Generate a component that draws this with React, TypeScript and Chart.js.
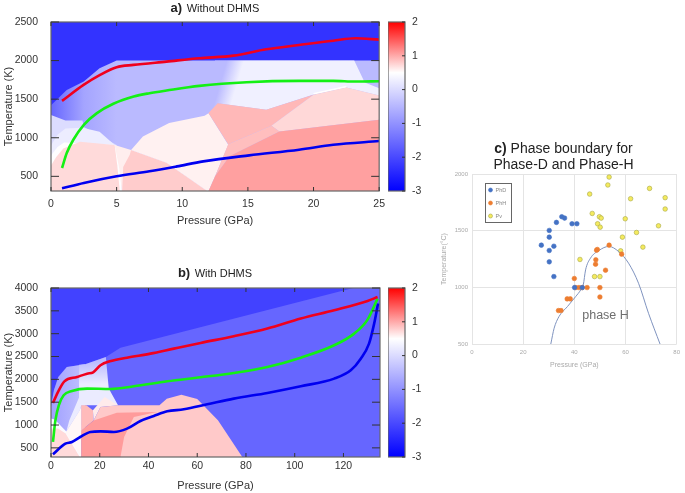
import React, { useEffect, useRef } from "react";
import { Chart, registerables } from "chart.js";

Chart.register(...registerables);

const FONT = '"Liberation Sans", Arial, sans-serif';

// ---- Tick labels
const aPressureTicks = [0, 5, 10, 15, 20, 25];
const aTempTicks = [500, 1000, 1500, 2000, 2500];
const bPressureTicks = [0, 20, 40, 60, 80, 100, 120];
const bTempTicks = [500, 1000, 1500, 2000, 2500, 3000, 3500, 4000];
const cPressureTicks = [0, 20, 40, 60, 80];
const cTempTicks = [500, 1000, 1500, 2000];

// ---- Panel a curves: [pressure GPa, temperature K]
const aRed = [[0.84,1478],[2.48,1685],[3.74,1815],[5,1914],[6.27,1944],[8.8,1987],[11.3,2030],[13.9,2064],[16.4,2146],[18.9,2202],[21.5,2258],[23.2,2289],[25,2271]];
const aGreen = [[0.84,608],[1.2,802],[1.7,974],[2.5,1168],[3.5,1319],[4.75,1440],[6.3,1534],[7.5,1577],[8.8,1612],[11.3,1672],[14.9,1720],[18.9,1737],[21.5,1737],[23.2,1728],[25,1733]];
const aBlue = [[0.84,345],[2.5,414],[5,500],[7.5,565],[9.6,629],[11.6,694],[15.1,772],[18.9,845],[21.5,909],[25,957]];

// ---- Panel b curves
const bRed = [[0.8,1483],[3.2,1760],[5.5,1957],[10.7,2052],[14.8,2125],[17.3,2154],[20.3,2308],[24.1,2395],[31.2,2475],[40.8,2563],[50.4,2673],[61.4,2797],[75,2943],[88.8,3111],[102.5,3330],[116.2,3512],[129.9,3716],[134,3804]];
const bGreen = [[0.8,629],[1.8,1103],[3.2,1432],[5.2,1651],[8.6,1745],[14.8,1797],[24.4,1789],[34,1848],[47.7,1957],[61.4,2045],[75,2140],[88.8,2271],[102.5,2475],[116.2,2746],[124.4,3001],[129.9,3308],[134,3768]];
const bBlue = [[0.8,358],[5.9,592],[8.6,629],[12,738],[16.2,848],[20.3,862],[25.8,848],[31.2,921],[36.7,1088],[42.2,1198],[47.7,1300],[54.5,1344],[64.1,1453],[75,1578],[88.8,1702],[102.5,1848],[116.2,2016],[123,2198],[127.1,2453],[130.5,2782],[132.6,3220],[134.2,3658]];

// ---- Panel a filled regions (painted back to front), v = log value on the colour bar,
// range = gradient from [P0,T0] to [P1,T1]
const aRegions = [
  { v: [-2.3], pts: [[0,310],[0,2500],[25,2500],[25,310]] },
  { v: [-1.6,-0.75,-0.45], range: [0,0,5,0], pts: [[0,1420],[1.2,1620],[2.5,1728],[3.7,1900],[5,2000],[25,2000],[25,310],[0,310]] },
  { v: [-0.45,0.3], range: [12.8,1650,14,1590], pts: [[12.5,2000],[23.1,2000],[23.9,1715],[25,1640],[25,1547],[22.5,1651],[20,1560],[16.4,1362],[12.7,1448],[12,1320],[10.5,1240],[10.5,1400]] },
  { v: [0.5], pts: [[20,1560],[22.5,1651],[22.5,1675],[20,1580]] },
  { v: [0.02], pts: [[0,1294],[1.1,1225],[2.4,1225],[2.5,1140],[5,905],[5.3,310],[0,310]] },
  { v: [0.25], pts: [[0,900],[0.5,1040],[1.1,1121],[2.4,1130],[3.7,1078],[4.85,905],[5.3,310],[0,310]] },
  { v: [0.48], pts: [[0,770],[0.5,880],[1,940],[4.85,905],[5.3,850],[5.4,310],[0,310]] },
  { v: [0.72], pts: [[0,640],[0.4,750],[0.94,862],[2.2,948],[4.85,905],[5.05,640],[5.24,310],[0,310]] },
  { v: [0.6], pts: [[4.85,905],[6.1,840],[8.8,675],[11.9,310],[5.4,310],[5.2,600]] },
  { v: [0.8], pts: [[5.42,310],[5.5,620],[6,780],[6.1,840],[8.8,675],[11.9,310]] },
  { v: [0.58], pts: [[6.1,840],[7,1017],[9,1190],[11.7,1284],[12,1319],[13.5,909],[12.5,500],[12,310],[11.9,310],[8.8,675]] },
  { v: [0.92], pts: [[12,1320],[12.7,1448],[16.4,1362],[20,1556],[16.8,1155],[13.5,915]] },
  { v: [0.73], pts: [[16.8,1155],[20,1556],[22.5,1651],[25,1547],[25,1233],[17.4,1082]] },
  { v: [0.88], pts: [[13.5,915],[16.8,1155],[17.4,1082],[13.6,759],[12.5,500]] },
  { v: [1.06], pts: [[12,310],[12.5,500],[13.6,759],[17.4,1082],[25,1233],[25,310]] },
];

// ---- Panel b filled regions
const bRegions = [
  { v: [-2.1], pts: [[0,300],[0,4000],[135,4000],[135,300]] },
  { v: [-1.6], pts: [[0,1400],[1.2,1760],[3,2052],[6.5,2270],[14,2330],[22.5,2490],[28.5,2694],[124,4000],[135,4220],[135,300],[0,300]] },
  { v: [-0.8,-0.4], range: [0,0,12,0], pts: [[0,1400],[1.2,1760],[3,2052],[6.5,2270],[14,2330],[14,700],[0,700]] },
  { v: [0.22,-0.45], range: [0,1900,0,2400], pts: [[11.5,2320],[14,2330],[22.5,2490],[23.7,1797],[27.5,1432],[12.4,1432],[11.8,1322],[6.3,860],[7.5,1100],[11.5,1600]] },
  { v: [0.45], pts: [[0,1141],[1.5,1120],[6.3,860],[12.4,1000],[12.4,300],[0,300]] },
  { v: [0.55], pts: [[6.3,860],[11.8,1322],[12.4,1400],[12.4,300],[11.8,337],[6.2,820]] },
  { v: [0.72], pts: [[0,922],[2.9,922],[6,815],[11.8,300],[0,300]] },
  { v: [0.9], pts: [[12.4,1432],[14.5,1432],[17.2,1322],[17.5,1100],[12.4,880]] },
  { v: [0.62], pts: [[17.2,1322],[22,1613],[27.5,1432],[20.3,1395],[17.5,1100]] },
  { v: [0.82], pts: [[17.5,1100],[20.3,1395],[27.5,1432],[44.5,1431],[47.5,1577],[53.5,1665],[60,1570],[68.5,1103],[78.5,300],[28.5,300]] },
  { v: [1.09], pts: [[28.5,300],[30,740],[34,1176],[43.5,1285],[27,1271],[17.5,1100],[12.4,880],[12.4,300]] },
];

// ---- Panel c
const phDPoints = [[27.1,1372],[30.2,1502],[30.2,1443],[30.2,1325],[30.2,1225],[32,1363],[32,1095],[33,1573],[35.1,1623],[36.2,1611],[39.1,1561],[41,1561],[40.1,998],[43.1,998]];
const phHPoints = [[33.8,795],[34.8,795],[37.2,898],[38.4,898],[40,1078],[40.5,998],[41.8,998],[43.1,998],[45,998],[50,998],[50,915],[48.3,1204],[48.4,1243],[48.7,1328],[49,1334],[52.2,1151],[53.6,1372],[58.5,1293]];
const pvPoints = [[53.6,1973],[53.1,1903],[46,1823],[69.4,1873],[62,1782],[75.5,1791],[75.5,1691],[47,1652],[49.8,1623],[50.5,1611],[59.9,1605],[49.1,1561],[50.1,1531],[72.9,1543],[64.3,1484],[58.8,1443],[66.8,1355],[58.1,1322],[42.2,1246],[47.9,1095],[50,1095]];
const phaseBoundary = [[30.8,500],[32.1,639],[34,742],[37.3,830],[40.5,918],[42.5,977],[43.5,1022],[44.4,1154],[46.3,1257],[49.6,1325],[53.5,1361],[57.3,1316],[61.2,1213],[65.1,1036],[69,771],[73.5,500]];
const colorBarRange = [-3, 2];

const xy = (a: number[][]) => a.map(([x, y]) => ({ x, y }));

function logColor(v: number) {
  if (v < 0.5) {
    const c = Math.round((255 * (v + 3)) / 3.5);
    return `rgb(${c},${c},255)`;
  }
  const c = Math.round(255 * (1 - (v - 0.5) / 1.5));
  return `rgb(255,${c},${c})`;
}

const regionPlugin = {
  id: "regions",
  beforeDatasetsDraw(chart: any) {
    const { ctx, chartArea: a, scales } = chart;
    const X = (v: number) => scales.x.getPixelForValue(v);
    const Y = (v: number) => scales.y.getPixelForValue(v);
    ctx.save();
    ctx.beginPath();
    ctx.rect(a.left, a.top, a.right - a.left, a.bottom - a.top);
    ctx.clip();
    chart.data.datasets.forEach((ds: any) => {
      if (!ds.region) return;
      ctx.beginPath();
      ds.data.forEach((p: any, i: number) => {
        if (i === 0) ctx.moveTo(X(p.x), Y(p.y));
        else ctx.lineTo(X(p.x), Y(p.y));
      });
      ctx.closePath();
      const { v, range } = ds.region;
      if (v.length > 1) {
        const g = ctx.createLinearGradient(X(range[0]), Y(range[1]), X(range[2]), Y(range[3]));
        v.forEach((c: number, i: number) => g.addColorStop(i / (v.length - 1), logColor(c)));
        ctx.fillStyle = g;
      } else {
        ctx.fillStyle = logColor(v[0]);
      }
      ctx.fill();
    });
    ctx.restore();
  },
};

const framePlugin = {
  id: "frame",
  afterDatasetsDraw(chart: any) {
    const o = chart.options.plugins.frame;
    if (!o || !o.on) return;
    const { ctx, chartArea: a, scales } = chart;
    ctx.save();
    ctx.strokeStyle = "#666";
    ctx.lineWidth = 1.2;
    ctx.strokeRect(a.left, a.top, a.right - a.left, a.bottom - a.top);
    ctx.strokeStyle = "#333";
    ctx.lineWidth = 1;
    ctx.beginPath();
    if (o.xTick) {
      scales.x.ticks.forEach((t: any) => {
        const X = scales.x.getPixelForValue(t.value);
        ctx.moveTo(X, a.bottom); ctx.lineTo(X, a.bottom - o.xTick);
        ctx.moveTo(X, a.top); ctx.lineTo(X, a.top + o.xTick);
      });
    }
    scales.y.ticks.forEach((t: any) => {
      const Y = scales.y.getPixelForValue(t.value);
      if (o.leftTicks) { ctx.moveTo(a.left, Y); ctx.lineTo(a.left + o.yTick, Y); }
      ctx.moveTo(a.right, Y); ctx.lineTo(a.right - o.yTick, Y);
    });
    ctx.stroke();
    ctx.restore();
  },
};

const annotatePlugin = {
  id: "annotate",
  afterDatasetsDraw(chart: any) {
    const o = chart.options.plugins.annotate;
    if (!o || !o.on) return;
    const { ctx, scales } = chart;
    ctx.save();
    ctx.fillStyle = "#6e6e6e";
    ctx.font = `12.5px ${FONT}`;
    ctx.textAlign = "center";
    ctx.textBaseline = "middle";
    ctx.fillText("phase H", scales.x.getPixelForValue(52.2), scales.y.getPixelForValue(747));
    // legend box
    const bx = scales.x.getPixelForValue(0) + 13.5;
    const by = scales.y.getPixelForValue(2000) + 9.5;
    ctx.strokeStyle = "#666";
    ctx.lineWidth = 1;
    ctx.fillStyle = "#fff";
    ctx.fillRect(bx, by, 26, 39);
    ctx.strokeRect(bx, by, 26, 39);
    const items = chart.data.datasets.filter((d: any) => d.legendEntry).sort((a: any, b: any) => a.legendEntry - b.legendEntry);
    items.forEach((d: any, i: number) => {
      const Y = by + 6.5 + i * 13;
      ctx.beginPath();
      ctx.arc(bx + 5, Y, 2, 0, Math.PI * 2);
      ctx.fillStyle = d.backgroundColor;
      ctx.fill();
      ctx.lineWidth = 0.6;
      ctx.strokeStyle = d.borderColor;
      ctx.stroke();
      ctx.fillStyle = "#888";
      ctx.font = `5.5px ${FONT}`;
      ctx.textAlign = "left";
      ctx.fillText(d.label, bx + 10, Y);
    });
    ctx.restore();
  },
};

const regionSets = (rs: any[]) =>
  rs.map((r, i) => ({ label: `region ${i}`, region: r, data: xy(r.pts), showLine: false, pointRadius: 0, pointHoverRadius: 0 }));

const curve = (label: string, pts: number[][], color: string) => ({
  label, data: xy(pts), showLine: true, borderColor: color, borderWidth: 2.6, pointRadius: 0, cubicInterpolationMode: "monotone", borderCapStyle: "butt", borderJoinStyle: "round",
});

function axis(o: any) {
  return {
    type: "linear",
    min: o.min,
    max: o.max,
    border: { display: false },
    grid: o.grid ? { color: "#e4e4e4", drawTicks: false, lineWidth: 1 } : { display: false, drawTicks: false },
    afterFit: o.afterFit,
    afterBuildTicks: (s: any) => {
      s.ticks = o.values.map((value: number) => ({ value }));
    },
    ticks: { autoSkip: false, maxRotation: 0, padding: o.pad, color: o.color, font: { family: FONT, size: o.size }, callback: (v: any) => String(v) },
    title: { display: true, text: o.title, color: o.color, padding: o.titlePad, font: { family: FONT, size: o.titleSize } },
  };
}

function panelConfig(regions: any[], curves: any[], xo: any, yo: any, pad: any, yWidth: number, xHeight: number) {
  return {
    type: "scatter",
    data: { datasets: [...curves, ...regionSets(regions)] },
    options: {
      animation: false,
      responsive: false,
      layout: { padding: pad },
      plugins: { legend: { display: false }, tooltip: { enabled: false }, frame: { on: true, xTick: 4, yTick: 8, leftTicks: true } },
      scales: {
        x: axis({ ...xo, afterFit: (s: any) => { s.height = xHeight; } }),
        y: axis({ ...yo, afterFit: (s: any) => { s.width = yWidth; } }),
      },
    },
    plugins: [regionPlugin, framePlugin],
  };
}

function barConfig(pad: any) {
  return {
    type: "bar",
    data: {
      labels: ["log"],
      datasets: [{
        label: "colour scale",
        data: [colorBarRange],
        barPercentage: 1,
        categoryPercentage: 1,
        backgroundColor: (c: any) => {
          const { chart } = c;
          if (!chart.chartArea) return "#fff";
          const y = chart.scales.y;
          const g = chart.ctx.createLinearGradient(0, y.getPixelForValue(-3), 0, y.getPixelForValue(2));
          g.addColorStop(0, logColor(-3));
          g.addColorStop(3.5 / 5, logColor(0.5));
          g.addColorStop(1, logColor(2));
          return g;
        },
      }],
    },
    options: {
      animation: false,
      responsive: false,
      layout: { padding: pad },
      plugins: { legend: { display: false }, tooltip: { enabled: false }, frame: { on: true, xTick: 0, yTick: 3, leftTicks: false } },
      scales: {
        x: { display: false },
        y: {
          position: "right",
          min: -3,
          max: 2,
          border: { display: false },
          grid: { display: false, drawTicks: false },
          afterFit: (s: any) => { s.width = 25; },
          ticks: { stepSize: 1, padding: 7, color: "#333", font: { family: FONT, size: 10.5 } },
        },
      },
    },
    plugins: [framePlugin],
  };
}

function phaseConfig() {
  const pt = (label: string, pts: number[][], fill: string, stroke: string, legendEntry: number) => ({
    label, legendEntry, data: xy(pts), backgroundColor: fill, borderColor: stroke, borderWidth: 0.6, pointRadius: 2.3, showLine: false,
  });
  return {
    type: "scatter",
    data: {
      datasets: [
        pt("PhD", phDPoints, "#4472c4", "#4472c4", 1),
        pt("PhH", phHPoints, "#ed7d31", "#ed7d31", 2),
        { label: "boundary", data: xy(phaseBoundary), showLine: true, borderColor: "#7f93bf", borderWidth: 1, pointRadius: 0, cubicInterpolationMode: "monotone" },
        pt("Pv", pvPoints, "#f4ea5e", "#a8a848", 3),
      ],
    },
    options: {
      animation: false,
      responsive: false,
      layout: { padding: { top: 9, right: 7, left: 0, bottom: 0 } },
      plugins: { legend: { display: false }, tooltip: { enabled: false }, annotate: { on: true } },
      scales: {
        x: axis({ min: 0, max: 80, values: cPressureTicks, pad: 5, color: "#aaa", size: 6, title: "Pressure (GPa)", titleSize: 7, titlePad: { top: 3, bottom: 1 }, grid: true, afterFit: (s: any) => { s.height = 26; } }),
        y: axis({ min: 500, max: 2000, values: cTempTicks, pad: 4, color: "#aaa", size: 6, title: "Temperature(°C)", titleSize: 7, titlePad: { top: 0, bottom: 2 }, grid: true, afterFit: (s: any) => { s.width = 32; } }),
      },
    },
    plugins: [annotatePlugin],
  };
}

const titleStyle = (left: number, top: number, width: number): any => ({
  position: "absolute", left, top, width, textAlign: "center", fontFamily: FONT, color: "#222", whiteSpace: "nowrap", lineHeight: 1,
});

export default function App() {
  const aRef = useRef<HTMLCanvasElement>(null);
  const aBarRef = useRef<HTMLCanvasElement>(null);
  const bRef = useRef<HTMLCanvasElement>(null);
  const bBarRef = useRef<HTMLCanvasElement>(null);
  const cRef = useRef<HTMLCanvasElement>(null);

  useEffect(() => {
    const axisCommon = { color: "#333", size: 10.5, titleSize: 11 };
    const charts = [
      new Chart(aRef.current as any, panelConfig(aRegions, [curve("Red", aRed, "#f0001e"), curve("Green", aGreen, "#14f014"), curve("Blue", aBlue, "#0000f0")],
        { ...axisCommon, min: 0, max: 25, values: aPressureTicks, pad: 7, title: "Pressure (GPa)", titlePad: { top: 3, bottom: 6 } },
        { ...axisCommon, min: 310, max: 2500, values: aTempTicks, pad: 13, title: "Temperature (K)", titlePad: { top: 2, bottom: 1 } },
        { top: 22, right: 12, left: 0, bottom: 0 }, 51, 43) as any),
      new Chart(aBarRef.current as any, barConfig({ top: 22, right: 0, left: 0, bottom: 43 }) as any),
      new Chart(bRef.current as any, panelConfig(bRegions, [curve("Red", bRed, "#f0001e"), curve("Green", bGreen, "#14f014"), curve("Blue", bBlue, "#0000f0")],
        { ...axisCommon, min: 0, max: 135, values: bPressureTicks, pad: 3, title: "Pressure (GPa)", titlePad: { top: 3, bottom: 0 } },
        { ...axisCommon, min: 300, max: 4000, values: bTempTicks, pad: 13, title: "Temperature (K)", titlePad: { top: 2, bottom: 1 } },
        { top: 38, right: 12, left: 0, bottom: 0 }, 51, 36) as any),
      new Chart(bBarRef.current as any, barConfig({ top: 38, right: 0, left: 0, bottom: 36 }) as any),
      new Chart(cRef.current as any, phaseConfig() as any),
    ];
    return () => charts.forEach((c) => c.destroy());
  }, []);

  const canvasStyle = (left: number, top: number): any => ({ position: "absolute", left, top, display: "block", filter: "blur(0.4px)" });

  return (
    <div style={{ position: "fixed", left: 0, top: 0, width: 685, height: 493, background: "#fff", overflow: "hidden" }}>
      <canvas ref={aRef} width={392} height={234} style={canvasStyle(0, 0)} />
      <canvas ref={aBarRef} width={42} height={234} style={canvasStyle(388, 0)} />
      <canvas ref={bRef} width={392} height={243} style={canvasStyle(0, 250)} />
      <canvas ref={bBarRef} width={42} height={243} style={canvasStyle(388, 250)} />
      <canvas ref={cRef} width={245} height={205} style={canvasStyle(440, 165)} />
      <div style={titleStyle(0, -1, 430)}><b style={{ fontSize: 13 }}>a)</b> <span style={{ fontSize: 11 }}>Without DHMS</span></div>
      <div style={titleStyle(0, 264, 430)}><b style={{ fontSize: 13 }}>b)</b> <span style={{ fontSize: 11 }}>With DHMS</span></div>
      <div style={{ ...titleStyle(440, 140, 245), lineHeight: "16px", fontSize: 14, left: 441 }}><b>c)</b> Phase boundary for<br />Phase-D and Phase-H</div>
    </div>
  );
}
